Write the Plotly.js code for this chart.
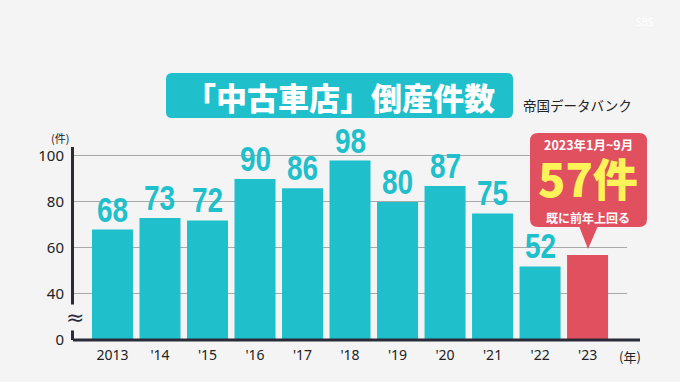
<!DOCTYPE html>
<html><head><meta charset="utf-8">
<script src="https://cdn.plot.ly/plotly-3.0.1.min.js"></script>
<style>html,body{margin:0;padding:0;background:#f4f4f5;}#c{width:680px;height:382px;}</style>
</head><body><div id="c"></div>
<script>
const categories = ["2013","'14","'15","'16","'17","'18","'19","'20","'21","'22","'23"];
const counts = [68,73,72,90,86,98,80,87,75,52,57];
const yTickVals = [20,40,60,80,100];
const yTickText = ["0","40","60","80","100"];
const titleText = "「中古車店」倒産件数";
const sourceText = "帝国データバンク";
const calloutPeriod = "2023年1月~9月";
const calloutValue = "57件";
const calloutNote = "既に前年上回る";

const TEAL = "#1fbfcb", RED = "#e0505e", YELLOW = "#fff35a", DARK = "#2a2a38", BG = "#f4f4f5";
const L = 74, R = 627, T = 147, B = 340, W = R - L, H = B - T;
const FLOOR = 20;
const px = X => (X - L) / W;
const py = Y => (B - Y) / H;
const last = categories.length - 1;

function roundRect(x0, y0, x1, y1, r) {
  const rx = r / W, ry = r / H;
  const a = px(x0), b = px(x1), top = py(y0), bot = py(y1);
  return `M ${a+rx},${top} L ${b-rx},${top} Q ${b},${top} ${b},${top-ry} L ${b},${bot+ry} Q ${b},${bot} ${b-rx},${bot} L ${a+rx},${bot} Q ${a},${bot} ${a},${bot+ry} L ${a},${top-ry} Q ${a},${top} ${a+rx},${top} Z`;
}

const trace = {
  type: "bar", x: categories, y: counts.map(v => v - FLOOR), base: FLOOR,
  marker: { color: categories.map((c, i) => i === last ? RED : TEAL) },
  hoverinfo: "skip"
};

function note(X, Y, text, font, extra) {
  return Object.assign({ xref: "paper", yref: "paper", x: px(X), y: py(Y), text, showarrow: false,
    xanchor: "center", yanchor: "middle", font }, extra || {});
}

const annotations = [];
categories.forEach((c, i) => {
  if (i === last) return;
  annotations.push({
    x: i, y: counts[i], xref: "x", yref: "y", text: String(counts[i]),
    showarrow: false, xanchor: "center", yanchor: "bottom", yshift: -1,
    font: { family: "Liberation Sans, Arial, sans-serif", size: 35, color: TEAL, weight: 700 }
  });
});
annotations.push(
  note(339.5, 96, titleText, { family: "Noto Sans CJK JP", size: 31, color: "#ffffff", weight: 900 }),
  note(521, 105, sourceText, { family: "Noto Sans CJK JP", size: 13.5, color: "#222222" }, { xanchor: "left" }),
  note(60, 138, "(件)", { family: "Noto Sans CJK JP", size: 11, color: "#222222" }),
  note(630, 356, "(年)", { family: "Noto Sans CJK JP", size: 13, color: "#222222" }),
  note(75, 317, "≈", { family: "DejaVu Sans", size: 22, color: DARK }, { bgcolor: BG, borderpad: 0 }),
  note(588, 144, calloutPeriod, { family: "Noto Sans CJK JP", size: 12.5, color: "#ffffff", weight: 700 }),
  note(588, 177, calloutValue, { family: "Noto Sans CJK JP", size: 45, color: YELLOW, weight: 900 }, { height: 48, valign: "middle", borderpad: 0 }),
  note(588, 217, calloutNote, { family: "Noto Sans CJK JP", size: 12, color: "#ffffff", weight: 700 }),
  note(645, 22, "SBS", { family: "Noto Sans", size: 10, color: "#ffffff" })
);

const shapes = [
  { type: "path", xref: "paper", yref: "paper", path: roundRect(166, 73, 513, 118, 6), fillcolor: TEAL, line: { width: 0 }, layer: "below" },
  { type: "path", xref: "paper", yref: "paper", path: roundRect(530, 133, 647, 227, 8), fillcolor: RED, line: { width: 0 } },
  { type: "path", xref: "paper", yref: "paper",
    path: `M ${px(579)},${py(226)} L ${px(598)},${py(226)} L ${px(588)},${py(249)} Z`, fillcolor: RED, line: { width: 0 } },
  { type: "line", xref: "paper", yref: "paper", x0: px(73), x1: px(640), y0: 0, y1: 0, line: { color: DARK, width: 3 } }
];

const layout = {
  width: 680, height: 382,
  margin: { l: L, r: 680 - R, t: T, b: 382 - B, pad: 0 },
  paper_bgcolor: BG, plot_bgcolor: BG,
  showlegend: false, bargap: 0.137,
  xaxis: { type: "category", range: [-0.81, 10.83], showgrid: false, showline: false, ticks: "", ticklabelstandoff: 5,
    tickfont: { family: "Noto Sans", size: 14, color: "#222222" }, fixedrange: true },
  yaxis: { range: [FLOOR, 103.9], tickvals: yTickVals, ticktext: yTickText, showgrid: true, gridcolor: "#a8a8a8", gridwidth: 1,
    showline: true, linecolor: DARK, linewidth: 3, ticks: "", zeroline: false, ticklabelstandoff: 4,
    tickfont: { family: "Noto Sans", size: 15, color: "#222222" }, fixedrange: true },
  annotations, shapes
};
Plotly.newPlot("c", [trace], layout, { staticPlot: true, displayModeBar: false }).then(() => {
  document.querySelectorAll(".annotation-text").forEach(t => {
    if (/^\d+$/.test(t.textContent)) {
      t.style.transformBox = "fill-box";
      t.style.transformOrigin = "center";
      t.style.transform = "scaleX(0.8)";
    }
  });
});
</script></body></html>
